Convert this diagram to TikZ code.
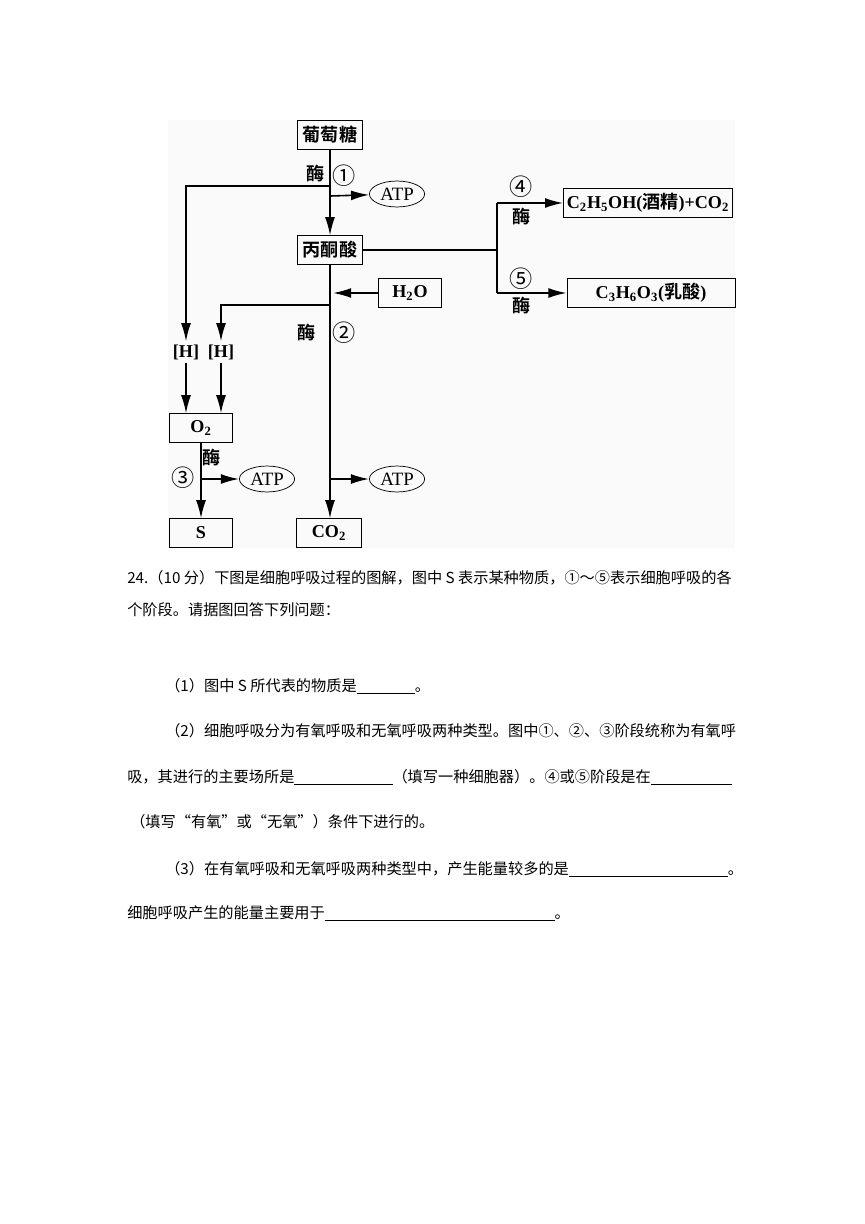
\documentclass[tikz,border=0pt]{standalone}
\usepackage{fontspec}
\setmainfont{Liberation Serif}
\newfontfamily\cjk{Noto Sans CJK SC}[BoldFont={Noto Sans CJK SC Bold}]
\usetikzlibrary{arrows.meta,shapes.geometric}
\newcommand{\ansline}[1]{\rule[-0.15em]{#1}{0.5pt}}

\begin{document}
\begin{tikzpicture}[x=0.2428mm, y=-0.2428mm,
    box/.style={draw, line width=0.6pt, inner sep=1.5pt, minimum height=6.9mm,
        font=\fontsize{12.5}{14}\selectfont\bfseries},
    atp/.style={draw, ellipse, line width=0.5pt, inner sep=0pt,
        minimum width=13.4mm, minimum height=6.3mm, font=\fontsize{13}{14}\selectfont},
    sym/.style={inner sep=2pt, font=\fontsize{12.5}{14}\selectfont\bfseries},
    enz/.style={inner sep=0pt, font=\fontsize{12.5}{14}\selectfont\cjk\bfseries},
    num/.style={inner sep=0pt, font=\fontsize{16}{16}\selectfont\cjk},
    ln/.style={line width=1.1pt},
    arr/.style={line width=1.1pt, -{Latex[length=4.4mm,width=2.4mm]}},
    txt/.style={anchor=base west, inner sep=0pt, font=\fontsize{10.5}{12}\selectfont\cjk}]
\useasboundingbox (0,0) rectangle (865,1224);
\fill[gray!4] (168,120) rectangle (735,548);

% boxes
\node[box, minimum width=15.8mm] (glc) at (330,135) {\cjk 葡萄糖};
\node[box, minimum width=15.8mm] (pyr) at (330,250) {\cjk 丙酮酸};
\node[box, minimum width=41mm] (eth) at (648,203) {C\textsubscript{2}H\textsubscript{5}OH({\cjk 酒精})+CO\textsubscript{2}};
\node[box, minimum width=40.8mm] (lac) at (651,293) {C\textsubscript{3}H\textsubscript{6}O\textsubscript{3}({\cjk 乳酸})};
\node[box, minimum width=15.5mm] (water) at (410,293) {H\textsubscript{2}O};
\node[box, minimum width=15.5mm] (o2) at (201,428) {O\textsubscript{2}};
\node[box, minimum width=15.5mm] (s) at (201,533) {S};
\node[box, minimum width=15.8mm] (co2) at (329,533) {CO\textsubscript{2}};
\node[atp] (atp1) at (397,194) {ATP};
\node[atp] (atp2) at (267,479) {ATP};
\node[atp] (atp3) at (397,479) {ATP};
\node[sym] (h1) at (186,352) {[H]};
\node[sym] (h2) at (221,352) {[H]};

% enzymes and stages
\node[enz] (e1) at (316,174) {酶};
\node[num] (n1) at (344,176) {①};
\node[num] (n4) at (521,187) {④};
\node[enz] (e4) at (522,217) {酶};
\node[num] (n5) at (521,279) {⑤};
\node[enz] (e5) at (522,306) {酶};
\node[enz] (e2) at (307,333) {酶};
\node[num] (n2) at (344,333) {②};
\node[enz] (e3) at (212,458) {酶};
\node[num] (n3) at (183,478) {③};

\coordinate (j1) at (330,186);
\coordinate (j2) at (330,196);
\coordinate (j3) at (333,293);
\coordinate (j4) at (330,305);
\coordinate (j5) at (330,479);
\coordinate (k1) at (201,479);
\coordinate (fork) at (497,250);
\coordinate (f4) at (497,203);
\coordinate (f5) at (497,293);

\draw[arr] (glc) -- (pyr);
\draw[arr] (j1) -| (h1);
\draw[arr] (j2) -- (atp1);
\draw[ln] (pyr) -- (fork);
\draw[ln] (f4) -- (f5);
\draw[arr] (f4) -- (eth.west);
\draw[arr] (f5) -- (lac.west);
\draw[arr] (water) -- (j3);
\draw[arr] (j4) -| (h2);
\draw[arr] (pyr.south) -- (pyr.south |- co2.north);
\draw[arr] (j5) -- (atp3);
\draw[arr] (h1.south) -- (h1.south |- o2.north);
\draw[arr] (h2.south) -- (h2.south |- o2.north);
\draw[arr] (o2) -- (s);
\draw[arr] (k1) -- (atp2);

% question text
\node[txt] (q0) at (127,583) {24.（10 分）下图是细胞呼吸过程的图解，图中 S 表示某种物质，①～⑤表示细胞呼吸的各};
\node[txt] (q0b) at (127,615) {个阶段。请据图回答下列问题：};
\node[txt] (q1) at (165,691) {（1）图中 S 所代表的物质是\ansline{14.1mm}。};
\node[txt] (q2) at (165,736) {（2）细胞呼吸分为有氧呼吸和无氧呼吸两种类型。图中①、②、③阶段统称为有氧呼};
\node[txt] (q2b) at (127,782) {吸，其进行的主要场所是\ansline{23.8mm}（填写一种细胞器）。④或⑤阶段是在\ansline{19.7mm}};
\node[txt] (q2c) at (130,827) {（填写“有氧”或“无氧”）条件下进行的。};
\node[txt] (q3) at (165,874) {（3）在有氧呼吸和无氧呼吸两种类型中，产生能量较多的是\ansline{38.6mm}。};
\node[txt] (q3b) at (127,918) {细胞呼吸产生的能量主要用于\ansline{55.8mm}。};
\end{tikzpicture}
\end{document}
